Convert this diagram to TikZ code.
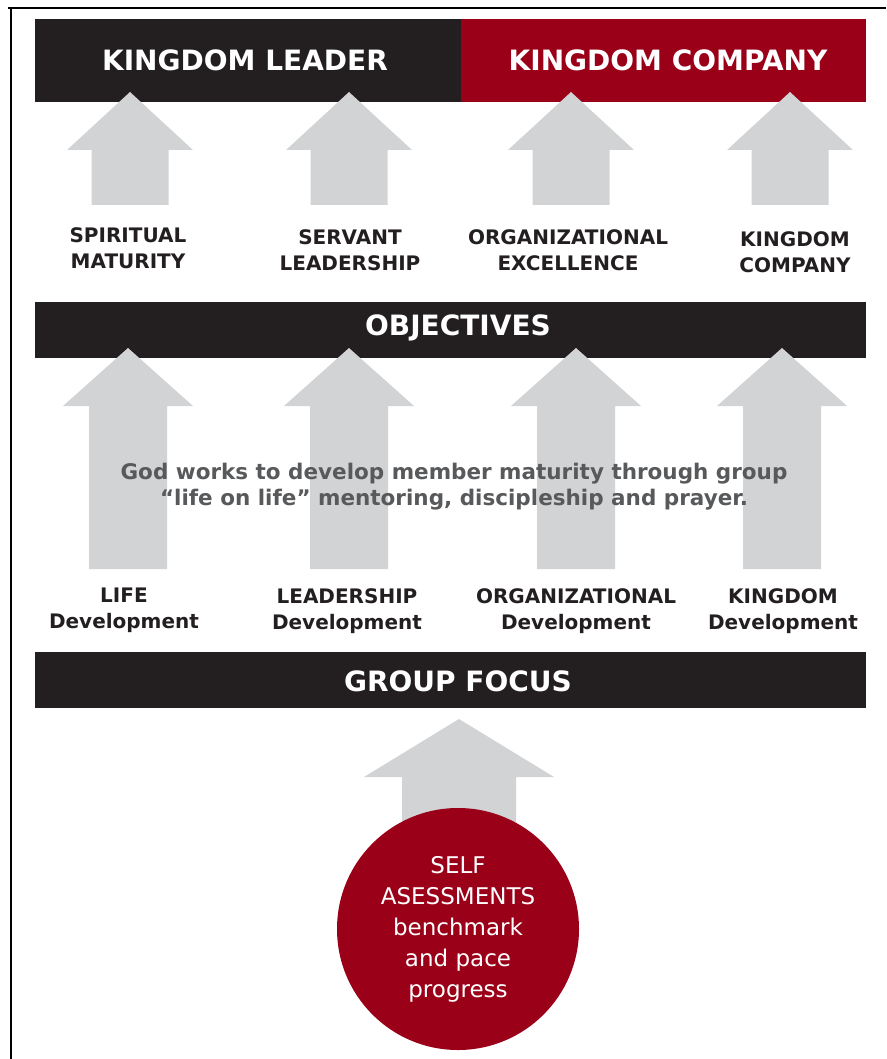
\documentclass[tikz,border=0pt]{standalone}
\usepackage{fontspec}
\setmainfont{DejaVu Sans}
\definecolor{kblack}{HTML}{231F20}
\definecolor{kred}{HTML}{9B0019}
\definecolor{kgray}{HTML}{D1D3D4}
\definecolor{ktext}{HTML}{58595B}
% block arrow pointing up: x, tip y, head base y, bottom y, head half width, shaft half width
\newcommand{\liftarrow}[6]{%
  \fill[kgray] (#1,#2) -- (#1+#5,#3) -- (#1+#6,#3) -- (#1+#6,#4)
    -- (#1-#6,#4) -- (#1-#6,#3) -- (#1-#5,#3) -- cycle;}
\tikzset{
  band/.style={fill=kblack, inner sep=0pt},
  title/.style={text=white, inner sep=0pt,
    font=\bfseries\fontsize{28}{30}\selectfont},
  goal/.style={align=center, text=kblack, inner sep=0pt,
    font=\bfseries\fontsize{20}{26}\selectfont},
}
\begin{document}
\begin{tikzpicture}[x=1pt,y=-1pt]
  \useasboundingbox (0,0) rectangle (886,1059);
  \draw[line width=2pt] (8,8) -- (886,8);
  \draw[line width=2pt] (10.5,8) -- (10.5,1059);

  % bands
  \node[band, minimum width=426pt, minimum height=83pt] (leader) at (248,60.5) {};
  \node[band, fill=kred, minimum width=405pt, minimum height=83pt] (company) at (663.5,60.5) {};
  \node[band, minimum width=831pt, minimum height=56pt] (objectives) at (450.5,330) {};
  \node[band, minimum width=831pt, minimum height=56pt] (focus) at (450.5,680) {};
  \node[title] (leadertitle) at (245,60) {KINGDOM LEADER};
  \node[title] (companytitle) at (668,60) {KINGDOM COMPANY};
  \node[title] (objtitle) at (458,328) {OBJECTIVES};
  \node[title] (focustitle) at (458,681) {GROUP FOCUS};

  % upper arrows
  \foreach \x in {130,349,571,790}
    \liftarrow{\x}{92}{150}{205}{63}{38.5};
  % lower arrows
  \foreach \x in {128,349,576,782}
    \liftarrow{\x}{348}{406}{569}{65}{39};
  \liftarrow{459}{719}{777}{880}{95}{57};

  % goals
  \node[goal] (spiritual) at (128,248) {SPIRITUAL\\MATURITY};
  \node[goal] (servant) at (350,250) {SERVANT\\LEADERSHIP};
  \node[goal] (excellence) at (568,250) {ORGANIZATIONAL\\EXCELLENCE};
  \node[goal] (kcompany) at (795,252) {KINGDOM\\COMPANY};

  \node[align=center, text=ktext, inner sep=0pt, font=\bfseries\fontsize{21.5}{26}\selectfont]
    (works) at (454,487) {God works to develop member maturity through group\\``life on life'' mentoring, discipleship and prayer.};

  \node[goal, anchor=north] (life) at (124,588) {LIFE\\Development};
  \node[goal, anchor=north] (leadership) at (347,588) {LEADERSHIP\\Development};
  \node[goal, anchor=north] (organizational) at (576,588) {ORGANIZATIONAL\\Development};
  \node[goal, anchor=north] (kingdom) at (783,588) {KINGDOM\\Development};

  % self assessment
  \node[circle, fill=kred, text=white, minimum size=242pt, inner sep=0pt, align=center,
    font=\fontsize{23}{31}\selectfont] (self) at (458,929)
    {SELF\\ASESSMENTS\\benchmark\\and pace\\progress};
\end{tikzpicture}
\end{document}
